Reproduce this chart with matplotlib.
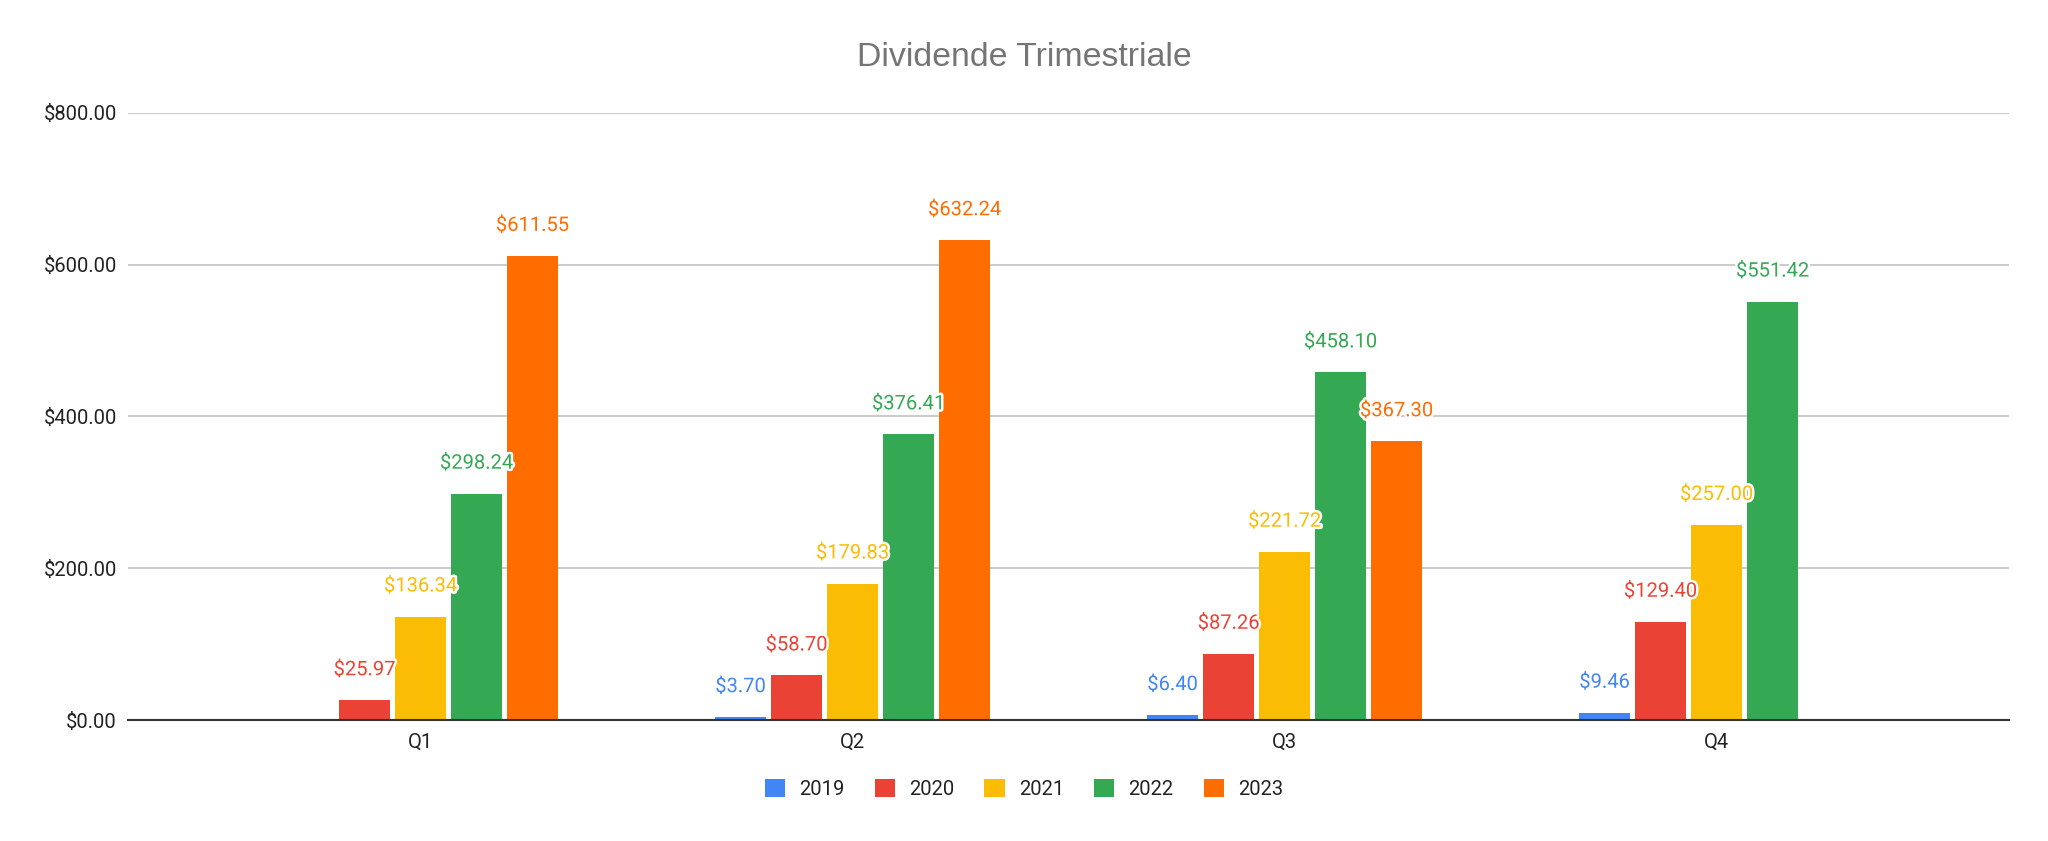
import numpy as np
import matplotlib
matplotlib.use("Agg")
import matplotlib.pyplot as plt
from matplotlib.patches import Patch
import matplotlib.patheffects as pe

plt.rcParams['font.family'] = ['Roboto', 'DejaVu Sans']

quarters = ["Q1", "Q2", "Q3", "Q4"]
years = ["2019", "2020", "2021", "2022", "2023"]
v2019 = [np.nan, 3.70, 6.40, 9.46]
v2020 = [25.97, 58.70, 87.26, 129.40]
v2021 = [136.34, 179.83, 221.72, 257.00]
v2022 = [298.24, 376.41, 458.10, 551.42]
v2023 = [611.55, 632.24, 367.30, np.nan]
series = [v2019, v2020, v2021, v2022, v2023]
colors = ["#4285F4", "#EA4335", "#FBBC04", "#34A853", "#FF6D01"]
yticks = [0, 200, 400, 600, 800]

W, H = 2048, 841
fig = plt.figure(figsize=(W / 100, H / 100), dpi=100)
ax = fig.add_axes([128 / W, 1 - 720 / H, (2009 - 128) / W, (720 - 113) / H])

x = np.arange(len(quarters))
slot = 0.1296
bw = 0.120
for i, (vals, c) in enumerate(zip(series, colors)):
    off = (i - 2) * slot
    vals = np.array(vals, dtype=float)
    ax.bar(x + off, vals, width=bw, color=c, zorder=3, linewidth=0)
    for xi, v in zip(x, vals):
        if np.isnan(v):
            continue
        ax.annotate(f"${v:,.2f}", (xi + off, v), xytext=(0, 22),
                    textcoords="offset points", ha="center", va="center",
                    fontsize=14.5, color=c, zorder=5,
                    path_effects=[pe.withStroke(linewidth=3.5, foreground="white")])

ax.set_xlim(-0.677, 3.677)
ax.set_ylim(0, 800)
ax.set_yticks(yticks)
ax.set_yticklabels([f"${t:,.2f}" for t in yticks])
ax.set_xticks(x)
ax.set_xticklabels(quarters)
ax.tick_params(axis="both", length=0, labelsize=14.5, colors="#222222")
ax.tick_params(axis="y", pad=8)
ax.tick_params(axis="x", pad=9)
ax.grid(axis="y", color="#cccccc", linewidth=1.5, zorder=0)
ax.set_axisbelow(True)
for s in ["top", "right", "left"]:
    ax.spines[s].set_visible(False)
ax.spines["bottom"].set_color("#333333")
ax.spines["bottom"].set_linewidth(1.5)
ax.spines["bottom"].set_zorder(4)

fig.text(0.5, 1 - 57 / H, "Dividende Trimestriale", ha="center", va="center",
         fontsize=24.4, color="#757575", family=["Liberation Sans", "DejaVu Sans"])

handles = [Patch(facecolor=c, edgecolor="none", label=y) for c, y in zip(colors, years)]
fig.legend(handles=handles, loc="center", bbox_to_anchor=(0.5, 1 - 789 / H), ncol=5,
           frameon=False, fontsize=14.5, handlelength=1.0, handleheight=1.0,
           handletextpad=0.7, columnspacing=1.5, labelcolor="#222222")

fig.savefig("out.png", dpi=100, facecolor="white")
